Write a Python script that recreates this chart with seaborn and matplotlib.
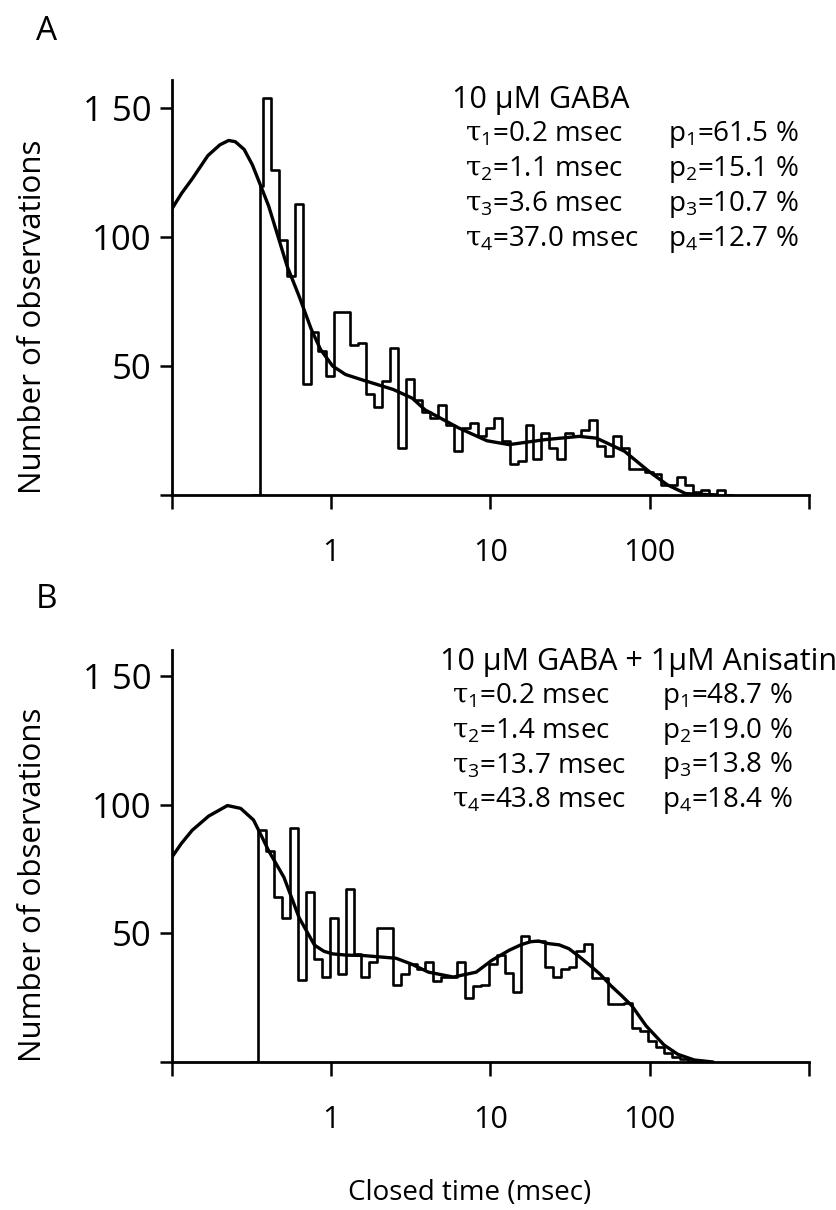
import numpy as np
import pandas as pd
import matplotlib
matplotlib.use("Agg")
import matplotlib.pyplot as plt
import seaborn as sns

# ---- panel A: 10 uM GABA ----
# log10 bin edges (first bin is the short one at the 0.355 ms cut-off)
edges_a = np.r_[-0.45, np.linspace(-0.43, 2.47, 59)]
counts_a = [120, 154, 126, 99, 85, 113, 43, 63, 56, 46,
            71, 71, 58, 59, 39, 34, 44, 57, 18, 45,
            37, 32, 30, 35, 27, 17, 26, 28, 23, 26,
            30, 21, 12, 13, 27, 14, 24, 18, 14, 24,
            23, 25, 29, 19, 15, 23, 18, 10, 10, 9,
            8, 4, 4, 7, 4, 1, 2, 0.5, 2]
fit_a_t = [0.1, 0.115, 0.134, 0.168, 0.2, 0.227, 0.25, 0.284, 0.32, 0.355,
           0.405, 0.462, 0.528, 0.629, 0.75, 0.857, 1.02, 1.23, 1.55, 2.45,
           3.23, 3.88, 6.3, 9.5, 13.1, 21.8, 36.1, 46.4, 69.5, 98.9,
           129, 168, 250]
fit_a_n = [111, 117, 122.6, 131.6, 135.8, 137.5, 137, 134, 128, 121,
           112, 100.5, 88.8, 77, 64.2, 56.4, 50, 46.7, 44.7, 40.9,
           37.5, 33, 26, 21, 19.5, 21.4, 22.7, 22, 16.9, 9.1,
           3.9, 0.5, 0]
labels_a = ["10 \u03bcM GABA",
            [r"$\tau_{\rm 1}$=0.2 msec", r"$\tau_{\rm 2}$=1.1 msec",
             r"$\tau_{\rm 3}$=3.6 msec", r"$\tau_{\rm 4}$=37.0 msec"],
            ["p$_{\\rm 1}$=61.5 %", "p$_{\\rm 2}$=15.1 %",
             "p$_{\\rm 3}$=10.7 %", "p$_{\\rm 4}$=12.7 %"]]

# ---- panel B: 10 uM GABA + 1 uM anisatin ----
edges_b = np.linspace(-0.46, 2.29, 56)
counts_b = [90, 82, 64, 56, 91, 32, 66, 40, 33, 56,
            34, 67, 42, 33, 39, 52, 52, 30, 34, 38,
            36, 39, 31.6, 33, 33, 39, 24.8, 29.4, 30, 38,
            41.5, 34.5, 27, 49, 47, 47, 36.8, 33, 36, 37,
            43, 45.7, 32.5, 32.5, 22.6, 22.6, 23, 13.4, 12, 8,
            6, 3.5, 2, 1, 0.5]
fit_b_t = [0.1, 0.115, 0.134, 0.17, 0.223, 0.27, 0.325, 0.36, 0.405, 0.505,
           0.629, 0.785, 0.9, 1.02, 1.25, 1.55, 2.55, 3.2, 4.08, 5.84,
           8.13, 10.2, 13.1, 15.5, 17.8, 20, 23, 27, 31.1, 36,
           42.2, 49, 57.1, 66, 77.3, 95, 123, 150, 190, 250]
fit_b_n = [79.6, 85, 90, 95.5, 99.6, 98.5, 94, 88.5, 82, 71.7,
           56, 45.4, 43, 42, 41.5, 41.4, 40.3, 38, 34.9, 33,
           34.9, 39.5, 43.4, 45.5, 46.7, 47, 46, 45.5, 44, 41,
           37.5, 34, 29.6, 26, 21.8, 14, 6.6, 3, 0.8, 0]
labels_b = ["10 \u03bcM GABA + 1\u03bcM Anisatin",
            [r"$\tau_{\rm 1}$=0.2 msec", r"$\tau_{\rm 2}$=1.4 msec",
             r"$\tau_{\rm 3}$=13.7 msec", r"$\tau_{\rm 4}$=43.8 msec"],
            ["p$_{\\rm 1}$=48.7 %", "p$_{\\rm 2}$=19.0 %",
             "p$_{\\rm 3}$=13.8 %", "p$_{\\rm 4}$=18.4 %"]]

sns.set_style("ticks")
plt.rcParams["font.family"] = ["Open Sans", "DejaVu Sans"]
plt.rcParams["mathtext.fontset"] = "custom"
plt.rcParams["mathtext.rm"] = "Open Sans"
plt.rcParams["mathtext.it"] = "DejaVu Serif"
for key in ["axes.edgecolor", "xtick.color", "ytick.color", "text.color",
            "axes.labelcolor"]:
    plt.rcParams[key] = "black"

fig = plt.figure(figsize=(8.36, 12.10), dpi=100)
ax_a = fig.add_axes([0.2057, 0.591, 0.762, 0.343])
ax_b = fig.add_axes([0.2057, 0.1223, 0.762, 0.3405])


def draw_panel(ax, edges, counts, fit_t, fit_n, labels, ytop, text_pos):
    # empty bins on both sides so the outline drops to the baseline
    edges = np.r_[edges[0] - 0.05, edges, edges[-1] + 0.05]
    counts = [0] + list(counts) + [0]
    mids = 10 ** ((edges[:-1] + edges[1:]) / 2)
    df = pd.DataFrame({"t": mids, "n": counts})
    sns.histplot(data=df, x="t", weights="n", bins=list(edges), element="step",
                 fill=False, log_scale=True, color="black", linewidth=1.9, ax=ax)
    fit = pd.DataFrame({"t": fit_t, "n": fit_n})
    sns.lineplot(data=fit, x="t", y="n", color="black", linewidth=2.4,
                 estimator=None, sort=True, ax=ax)
    ax.set_xlim(0.1, 1000)
    ax.set_ylim(0, ytop)
    ax.set_xticks([0.1, 1, 10, 100, 1000])
    ax.set_xticklabels(["", "1", "10", "100", ""])
    ax.xaxis.set_minor_locator(matplotlib.ticker.NullLocator())
    ax.set_yticks([0, 50, 100, 150])
    ax.set_yticklabels(["", "50", "100", "1 50"])
    ax.tick_params(axis="x", direction="out", length=10, width=1.8,
                   labelsize=22, pad=21)
    ax.tick_params(axis="y", direction="out", length=9, width=1.8,
                   labelsize=25, pad=6)
    for s in ["top", "right"]:
        ax.spines[s].set_visible(False)
    for s in ["left", "bottom"]:
        ax.spines[s].set_linewidth(2.0)
    ax.set_ylabel("Number of observations", fontsize=22.5)
    ax.yaxis.set_label_coords(-0.195, 0.43)
    ax.set_xlabel("")
    tx, ty, px = text_pos
    ax.text(tx, ty, labels[0], transform=ax.transAxes, fontsize=22,
            va="center", ha="left")
    for i in range(4):
        y = ty - 0.084 * (i + 1)
        ax.text(tx + 0.02, y, labels[1][i], transform=ax.transAxes,
                fontsize=20, va="center", ha="left")
        ax.text(px, y, labels[2][i], transform=ax.transAxes,
                fontsize=20, va="center", ha="left")


draw_panel(ax_a, edges_a, counts_a, fit_a_t, fit_a_n, labels_a, 161,
           (0.44, 0.952, 0.779))
draw_panel(ax_b, edges_b, counts_b, fit_b_t, fit_b_n, labels_b, 160,
           (0.42, 0.971, 0.77))

ax_b.set_xlabel("Closed time (msec)", fontsize=20)
ax_b.xaxis.set_label_coords(0.468, -0.285)

fig.text(36 / 836, 1 - 32 / 1210, "A", fontsize=24, va="center", ha="left")
fig.text(36 / 836, 1 - 600 / 1210, "B", fontsize=24, va="center", ha="left")

fig.savefig("out.png", dpi=100)
